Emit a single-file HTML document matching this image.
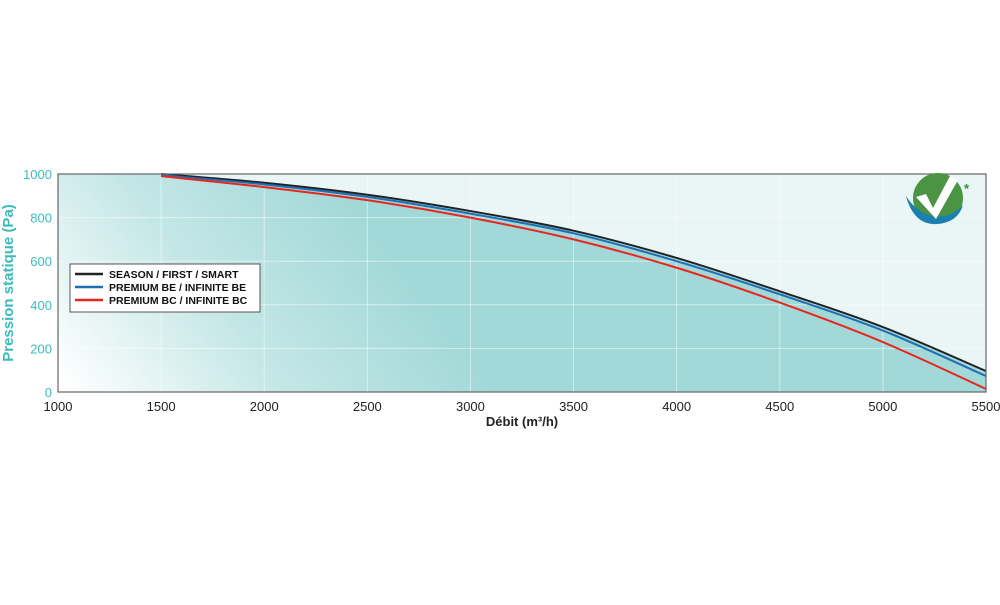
<!DOCTYPE html>
<html><head><meta charset="utf-8"><style>
body{margin:0;background:#fff;font-family:"Liberation Sans",Arial,sans-serif}
</style></head><body>
<svg width="1000" height="600" id="chart">
<defs>
<linearGradient id="fg" gradientUnits="userSpaceOnUse" x1="90" y1="420" x2="360" y2="210">
<stop offset="0" stop-color="#ffffff"/><stop offset="0.5" stop-color="#c4e7e6"/><stop offset="1" stop-color="#a2d8d8"/>
</linearGradient>
</defs>
<rect x="58" y="174" width="928" height="218" fill="#e9f6f5"/>
<g id="fill"></g>
<g id="grid"></g>
<g id="series"></g>
<rect x="58" y="174" width="928" height="218" fill="none" stroke="#666" stroke-width="1.2"/>
<g id="ticks"></g>
<text x="13" y="283" transform="rotate(-90 13 283)" text-anchor="middle" font-size="15" font-weight="bold" fill="#3cbcbc">Pression statique (Pa)</text>
<text x="522" y="426" text-anchor="middle" font-size="13" font-weight="bold" fill="#222">Débit (m³/h)</text>
<g>
<rect x="70" y="264" width="190" height="48" fill="#fff" stroke="#555" stroke-width="1"/>
<g><line x1="75" y1="274" x2="103" y2="274" stroke="#222" stroke-width="2.5"/><text x="109" y="278" font-size="10.5" font-weight="bold" fill="#111">SEASON / FIRST / SMART</text></g>
<g><line x1="75" y1="287" x2="103" y2="287" stroke="#1e6fb5" stroke-width="2.5"/><text x="109" y="291" font-size="10.5" font-weight="bold" fill="#111">PREMIUM BE / INFINITE BE</text></g>
<g><line x1="75" y1="300" x2="103" y2="300" stroke="#e8261e" stroke-width="2.5"/><text x="109" y="304" font-size="10.5" font-weight="bold" fill="#111">PREMIUM BC / INFINITE BC</text></g>
</g>
<g>
<circle cx="938" cy="198" r="25" fill="#4a9444"/>
<path d="M906 196 Q914 226 938 224 Q958 222 963 205 Q950 219 932 216 Q916 212 906 196Z" fill="#1d7fb0"/>
<path d="M916 197 L926 194 L933 208 L950 176 L958 180 L936 219Z" fill="#fff"/>
<text x="964" y="193" font-size="13" font-weight="bold" fill="#3d8a3a">*</text>
</g>
</svg>
<script>
const xTicks=[1000,1500,2000,2500,3000,3500,4000,4500,5000,5500];
const yTicks=[0,200,400,600,800,1000];
const flows=[1500,2000,2500,3000,3500,4000,4500,5000,5500];
const season=[1000,960,905,830,740,615,462,298,96];
const premiumBE=[995,952,895,818,728,600,448,282,73];
const premiumBC=[990,940,880,800,700,570,410,229,14];
const X=v=>58+(v-1000)*928/4500, Y=v=>392-v*218/1000;
const ns="http://www.w3.org/2000/svg";
function mk(t,a,p){const e=document.createElementNS(ns,t);for(const k in a)e.setAttribute(k,a[k]);p.appendChild(e);return e;}
function smooth(xs,ys){const p=xs.map((x,i)=>[X(x),Y(ys[i])]);let d="M"+p[0];for(let i=0;i<p.length-1;i++){const p0=p[i-1]||p[i],p1=p[i],p2=p[i+1],p3=p[i+2]||p2;d+=" C"+(p1[0]+(p2[0]-p0[0])/6)+","+(p1[1]+(p2[1]-p0[1])/6)+" "+(p2[0]-(p3[0]-p1[0])/6)+","+(p2[1]-(p3[1]-p1[1])/6)+" "+p2[0]+","+p2[1];}return d;}
const grid=document.getElementById('grid'),ticks=document.getElementById('ticks');
xTicks.forEach(v=>{const l=mk('line',{x1:X(v),x2:X(v),y1:174,y2:392,stroke:'#ffffff','stroke-opacity':0.5,'stroke-width':1},grid);


const t=mk('text',{x:X(v),y:411,'text-anchor':'middle','font-size':13,fill:'#222'},ticks);t.textContent=v;

});
yTicks.forEach(v=>{const l=mk('line',{x1:58,x2:986,y1:Y(v),y2:Y(v),stroke:'#ffffff','stroke-opacity':0.5,'stroke-width':1},grid);


const t=mk('text',{x:52,y:Y(v)+5,'text-anchor':'end','font-size':13,fill:'#3cbcbc'},ticks);t.textContent=v;

});
const f=mk('path',{d:"M"+X(1000)+","+Y(1000)+" L"+smooth(flows,season).slice(1)+" L"+X(5500)+","+Y(0)+" L"+X(1000)+","+Y(0)+"Z",fill:'url(#fg)'},document.getElementById('fill'));


const sg=document.getElementById('series');
[[season,'#222','series-season'],[premiumBE,'#1e6fb5','series-premium-be'],[premiumBC,'#e8261e','series-premium-bc']].forEach(([s,c,n])=>{
const p=mk('path',{d:smooth(flows,s),fill:'none',stroke:c,'stroke-width':2},sg);

});
</script>
</body></html>
